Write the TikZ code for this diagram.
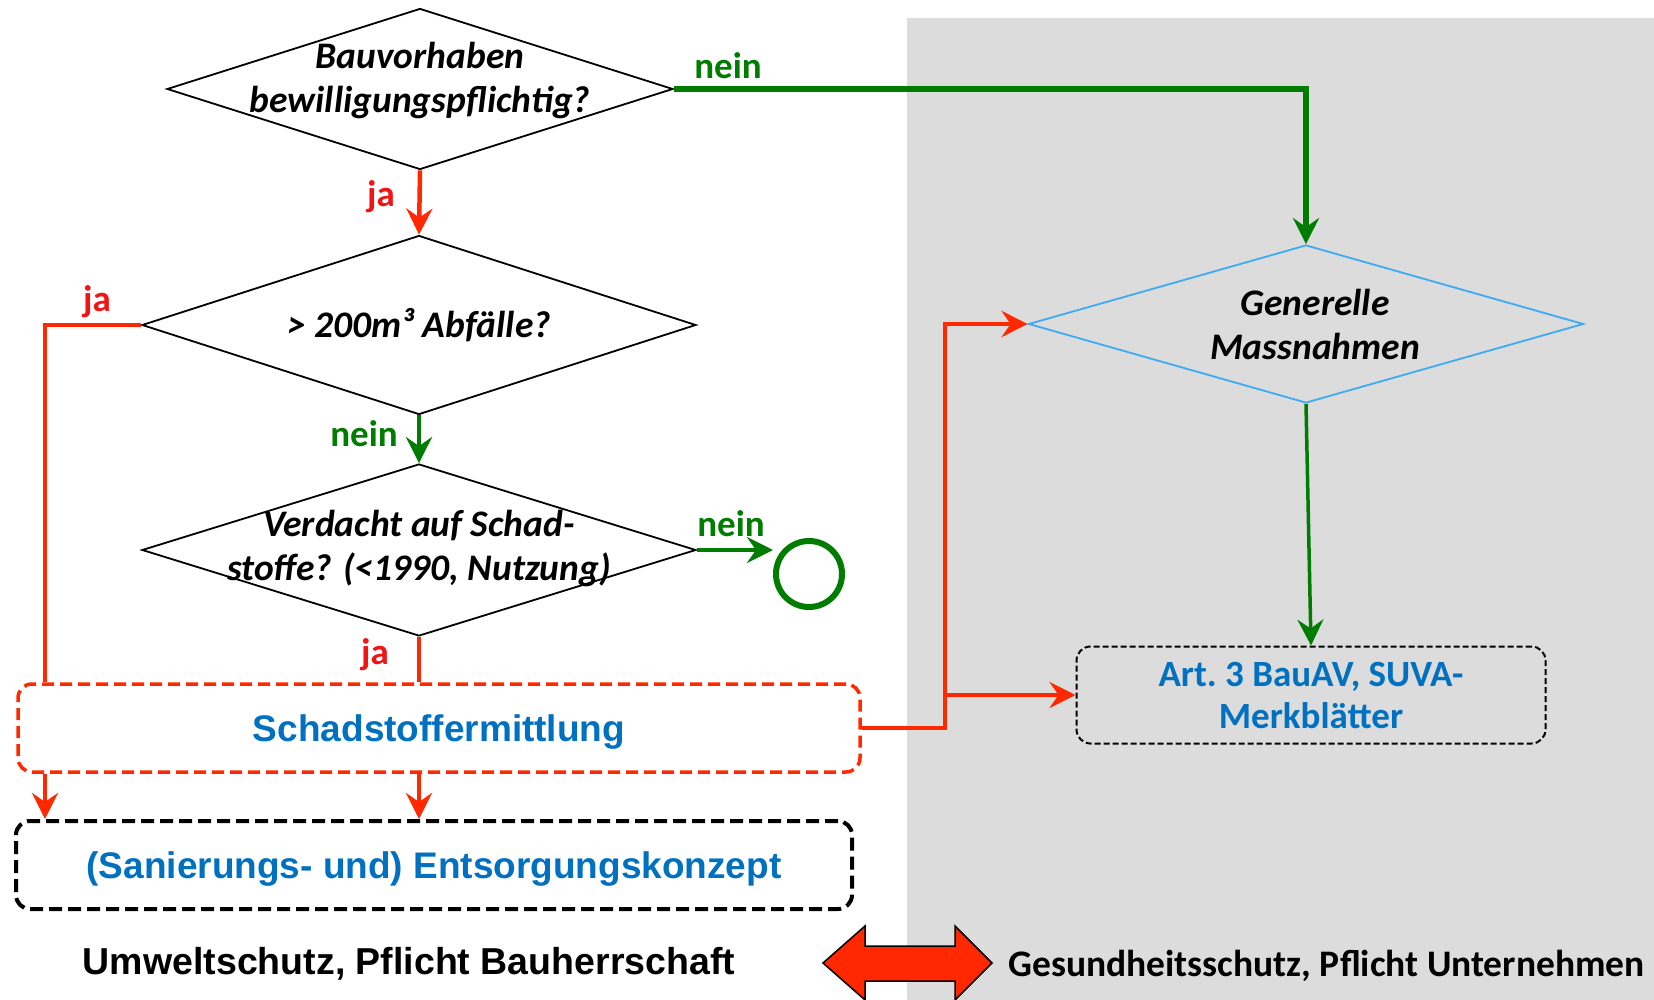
\documentclass[tikz,border=0pt]{standalone}
\usepackage{fontspec}
\setmainfont{Carlito}
\newfontfamily\arialfont{Liberation Sans}
\usetikzlibrary{shapes.geometric,arrows.meta}
\definecolor{jarot}{RGB}{255,40,0}
\definecolor{jatext}{RGB}{240,20,20}
\definecolor{neingruen}{RGB}{0,125,0}
\definecolor{textblau}{RGB}{0,112,192}
\definecolor{hellblau}{RGB}{60,170,245}
\definecolor{hgrau}{RGB}{220,220,220}
\tikzset{
  frage/.style={diamond, draw, line width=1.8pt, inner sep=0pt},
  ftext/.style={font=\fontsize{37.5}{44}\selectfont\bfseries\itshape, align=center},
  ja/.style={font=\fontsize{37}{42}\selectfont\bfseries, text=jatext},
  nein/.style={font=\fontsize{37}{42}\selectfont\bfseries, text=neingruen},
  rot/.style={draw=jarot, line width=4.5pt},
  gruen/.style={draw=neingruen, line width=4.5pt},
  pfeil/.style={-{Stealth[length=26pt,width=26pt,inset=9pt]}},
  kasten/.style={rounded corners=14pt, inner sep=0pt, align=center, text depth=0pt,
    font=\arialfont\fontsize{37}{44}\selectfont\bfseries, text=textblau},
}
\begin{document}
\begin{tikzpicture}[x=1pt, y=-1pt]
\useasboundingbox (0,0) rectangle (1654,1000);
\fill[hgrau] (907,18) rectangle (1654,1000);
% Fragen
\node[frage, minimum width=506pt, minimum height=161pt,
  label={[ftext, yshift=8pt]center:{Bauvorhaben\\bewilligungspflichtig?}}] (q1) at (420,89) {};
\node[frage, minimum width=554pt, minimum height=179pt,
  label={[ftext]center:{> 200m³ Abfälle?}}] (q2) at (419,325) {};
\node[frage, minimum width=554pt, minimum height=172pt,
  label={[ftext, yshift=2pt]center:{Verdacht auf Schad-\\stoffe? (<1990, Nutzung)}}] (q3) at (419,550) {};
\node[frage, draw=hellblau, minimum width=555pt, minimum height=158pt,
  label={[ftext, xshift=9pt]center:{Generelle\\Massnahmen}}] (gen) at (1306,324) {};
\node[circle, draw=neingruen, line width=6pt, minimum size=66pt, inner sep=0pt] (ende) at (809,574) {};
% Kaesten
\node[kasten, draw=jarot, line width=3.5pt, dash pattern=on 12pt off 6pt,
  minimum width=842pt, minimum height=88pt] (sm) at (439,728) {Schadstoffermittlung};
\node[kasten, draw=black, line width=4pt, dash pattern=on 13pt off 6pt,
  minimum width=836pt, minimum height=88pt] (ek) at (434,865) {(Sanierungs- und) Entsorgungskonzept};
\node[kasten, font=\fontsize{37}{42}\selectfont\bfseries, text depth=, draw=black, line width=2pt,
  dash pattern=on 6pt off 3pt, minimum width=469pt, minimum height=97pt] (art) at (1311,695)
  {Art.\ 3 BauAV, SUVA-\\Merkblätter};
% Verbindungen
\coordinate (lk) at (45,325);
\coordinate (rk) at (945,726);
\draw[gruen, line width=5.5pt, pfeil] (q1.east) -| (gen.north);
\draw[rot, pfeil] (q1.south) -- (q2.north);
\draw[rot] (q2.west) -- (lk) -- (lk |- sm.north);
\draw[gruen, pfeil] (q2.south) -- (q3.north);
\draw[gruen, pfeil] (q3.east) -- (q3.east -| ende.west);
\draw[rot] (q3.south) -- (q3.south |- sm.north);
\draw[rot, pfeil] (lk |- sm.south) -- (lk |- ek.north);
\draw[rot, pfeil] (q3.south |- sm.south) -- (q3.south |- ek.north);
\draw[rot, pfeil] (sm.east) -- (sm.east -| rk) |- (gen.west);
\draw[rot, pfeil] (rk |- art.west) -- (art.west);
\draw[gruen, line width=3.5pt, pfeil] (gen.south) -- (art.north);
% Beschriftungen
\node[nein] (n1) at (728,66) {nein};
\node[ja] (j1) at (381,197) {ja};
\node[ja] (j2) at (97,302) {ja};
\node[nein] (n2) at (364,434) {nein};
\node[nein] (n3) at (731,524) {nein};
\node[ja] (j3) at (375,655) {ja};
% Fusszeile
\node[font=\arialfont\fontsize{37.5}{44}\selectfont\bfseries] (umwelt) at (409,964) {Umweltschutz, Pflicht Bauherrschaft};
\filldraw[fill=jarot, draw=black, line width=1.5pt] (823,963) -- (865,926) -- (865,946) -- (955,946)
  -- (955,926) -- (992,963) -- (955,1000) -- (955,981) -- (865,981) -- (865,1000) -- cycle;
\node[font=\fontsize{37.5}{44}\selectfont\bfseries, anchor=west] (gesund) at (1005,966) {Gesundheitsschutz, Pflicht Unternehmen};
\end{tikzpicture}
\end{document}
